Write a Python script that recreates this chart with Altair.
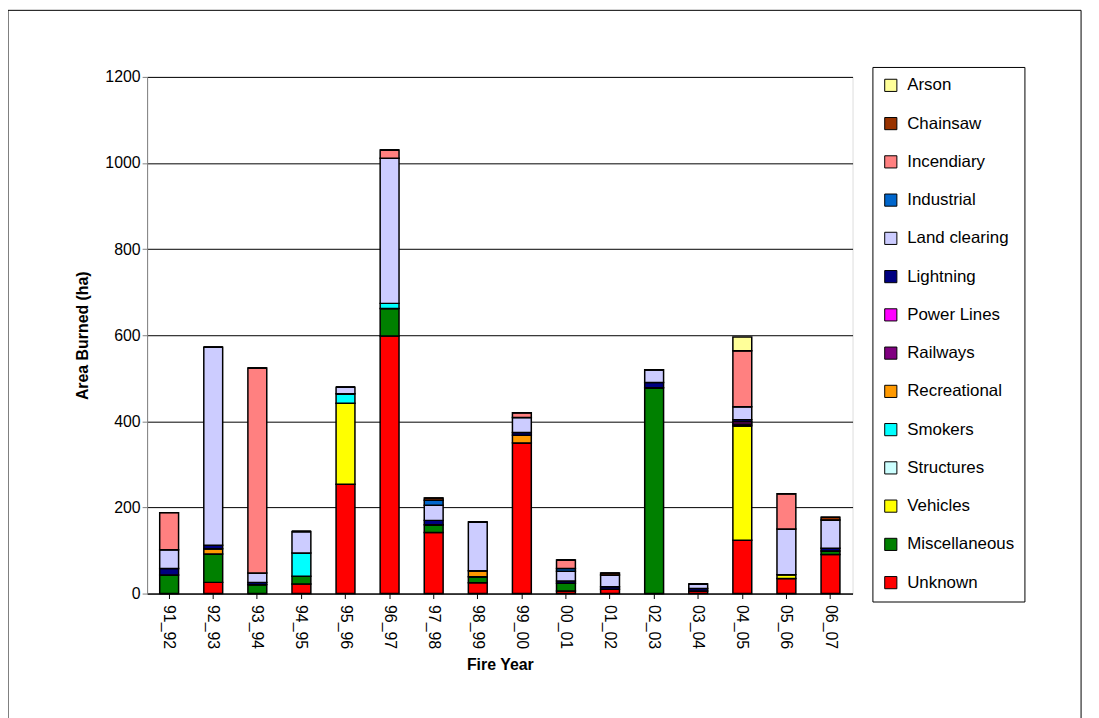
import altair as alt
import pandas as pd

years = ["91_92","92_93","93_94","94_95","95_96","96_97","97_98","98_99","99_00","00_01","01_02","02_03","03_04","04_05","05_06","06_07"]
causes = ["Unknown","Miscellaneous","Vehicles","Structures","Smokers","Recreational","Railways","Power Lines","Lightning","Land clearing","Industrial","Incendiary","Chainsaw","Arson"]
colors = ["#FF0000","#008000","#FFFF00","#CCFFFF","#00FFFF","#FF9900","#800080","#FF00FF","#000080","#CCCCFF","#0066CC","#FF8080","#993300","#FFFF99"]

unknown      = [0,26,0,22,254,598,142,25,350,6,10,0,6,124,35,91]
misc         = [43,66,21,18,0,64,18,14,0,18,0,478,0,0,0,8]
vehicles     = [0,0,0,0,188,0,0,0,0,0,0,0,0,266,9,0]
structures   = [0,0,0,0,0,0,0,0,0,0,0,0,0,0,0,0]
smokers      = [0,0,0,54,22,12,0,0,0,0,0,0,0,0,0,0]
recreational = [0,12,0,0,0,0,0,14,18,0,0,0,0,0,0,0]
railways     = [0,0,0,0,0,0,0,0,0,0,0,0,0,4,0,0]
powerlines   = [0,0,0,0,0,0,0,0,0,0,0,0,0,5,0,0]
lightning    = [15,8,5,0,0,0,10,0,6,5,6,12,6,5,0,6]
landclearing = [44,460,22,50,15,337,35,113,35,23,27,30,10,30,106,66]
industrial   = [0,0,0,0,0,0,12,0,0,6,0,0,0,0,0,0]
incendiary   = [86,0,476,0,0,19,0,0,11,20,0,0,0,130,82,0]
chainsaw     = [0,0,0,0,0,0,5,0,0,0,5,0,0,0,0,6]
arson        = [0,0,0,0,0,0,0,0,0,0,0,0,0,32,0,0]

series = [unknown,misc,vehicles,structures,smokers,recreational,railways,powerlines,
          lightning,landclearing,industrial,incendiary,chainsaw,arson]

rows = []
for ci, (c, vals) in enumerate(zip(causes, series)):
    for y, v in zip(years, vals):
        rows.append({"year": y, "cause": c, "value": v, "ord": ci})
df = pd.DataFrame(rows)

bars = alt.Chart(df).mark_bar(stroke="black", strokeWidth=1.5, size=19).encode(
    x=alt.X("year:N", sort=years, title="Fire Year",
            axis=alt.Axis(labelAngle=90, labelFontSize=16, titleFontSize=16, titleFontWeight="bold",
                          labelColor="black", titleColor="black", domainColor="black",
                          tickColor="black", labelPadding=6, labelBaseline="middle", labelAlign="left",
                          titlePadding=8)),
    y=alt.Y("value:Q", stack="zero", title="Area Burned (ha)",
            scale=alt.Scale(domain=[0, 1200]),
            axis=alt.Axis(values=[0,200,400,600,800,1000,1200], format="d", labelFontSize=16, titleFontSize=16,
                          titleFontWeight="bold", gridColor="black", gridOpacity=1,
                          domainColor="#808080", tickColor="#808080", labelColor="black",
                          titleColor="black", titlePadding=14)),
    color=alt.Color("cause:N",
                    scale=alt.Scale(domain=causes[::-1], range=colors[::-1]),
                    legend=alt.Legend(title=None, orient="none", legendX=730, legendY=-10,
                                      symbolType="square", symbolSize=150, symbolStrokeColor="black",
                                      symbolStrokeWidth=1, labelFontSize=17, labelColor="black",
                                      rowPadding=20.5, padding=10, strokeColor="black",
                                      labelLimit=200, labelOffset=8)),
    order=alt.Order("ord:Q"),
)

border = alt.Chart(pd.DataFrame({"a": [0]})).mark_rect(fill=None, stroke="black", strokeWidth=1).encode(
    x=alt.value(-140), x2=alt.value(940), y=alt.value(-67), y2=alt.value(650))

chart = alt.layer(border, bars).properties(
    width=710, height=520,
    autosize=alt.AutoSizeParams(type="none"),
    padding={"left": 140, "top": 67, "right": 240, "bottom": 140},
).configure_view(stroke=None).configure(font="Liberation Sans")

chart.save("out.html", embed_options={"renderer": "svg", "actions": False})
